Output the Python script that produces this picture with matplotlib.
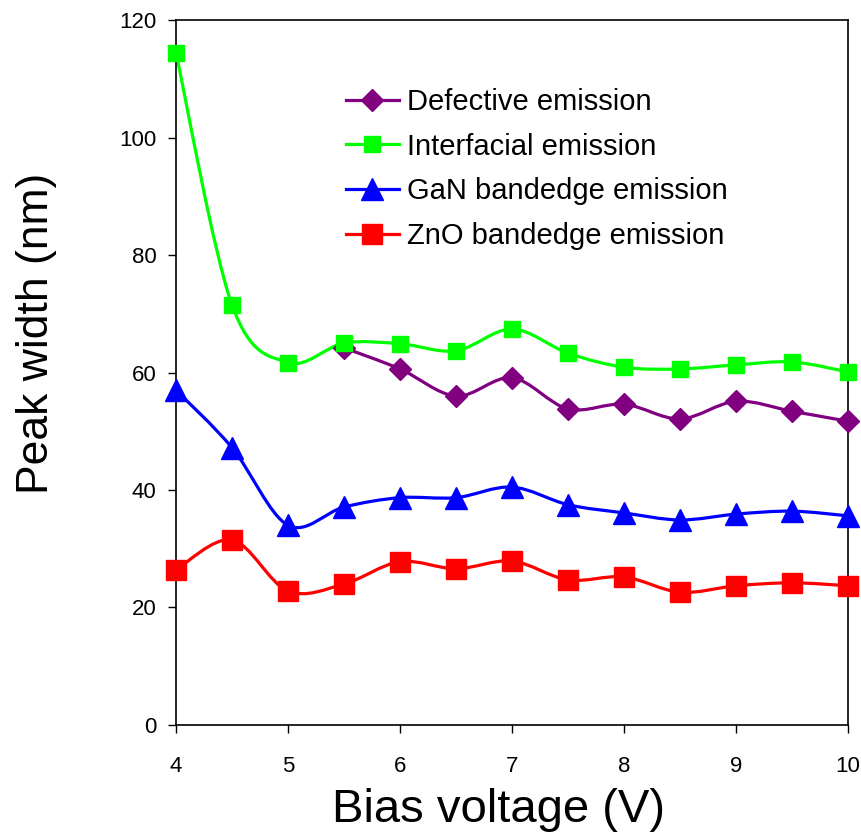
import numpy as np
import matplotlib
matplotlib.use("Agg")
import matplotlib.pyplot as plt
from matplotlib.path import Path
from matplotlib.patches import PathPatch
from matplotlib.lines import Line2D

plt.rcParams['font.family'] = ['Liberation Sans', 'DejaVu Sans']

# data
voltage = [4, 4.5, 5, 5.5, 6, 6.5, 7, 7.5, 8, 8.5, 9, 9.5, 10]
defect_v = [5.5, 6, 6.5, 7, 7.5, 8, 8.5, 9, 9.5, 10]
defective = [64.2, 60.6, 56.0, 59.1, 53.8, 54.6, 52.1, 55.1, 53.4, 51.7]
interfacial = [114.4, 71.5, 61.7, 65.0, 64.9, 63.7, 67.4, 63.3, 60.9, 60.6, 61.3, 61.8, 60.1]
gan = [57.0, 47.2, 34.0, 37.1, 38.7, 38.7, 40.5, 37.5, 36.1, 34.9, 35.9, 36.4, 35.6]
zno = [26.4, 31.5, 22.8, 24.0, 27.8, 26.6, 27.9, 24.7, 25.2, 22.6, 23.7, 24.2, 23.7]

labels = ['Defective emission', 'Interfacial emission',
          'GaN bandedge emission', 'ZnO bandedge emission']


def smooth_path(x, y):
    # Excel-style smoothed line: cubic bezier segments, catmull-rom tangents
    p = np.column_stack([x, y]).astype(float)
    n = len(p)
    verts = [p[0]]
    codes = [Path.MOVETO]
    for i in range(n - 1):
        p0 = p[i - 1] if i > 0 else p[i]
        p1 = p[i]
        p2 = p[i + 1]
        p3 = p[i + 2] if i + 2 < n else p[i + 1]
        c1 = p1 + (p2 - p0) / 6.0
        c2 = p2 - (p3 - p1) / 6.0
        verts += [c1, c2, p2]
        codes += [Path.CURVE4] * 3
    return Path(verts, codes)


fig = plt.figure(figsize=(8.61, 8.34), dpi=100)
ax = fig.add_axes([0.2044, 0.1307, 0.7806, 0.8453])

series = [
    (defect_v, defective, '#800080', 'D', 11),
    (voltage, interfacial, '#00ff00', 's', 11),
    (voltage, gan, '#0000ff', '^', 16),
    (voltage, zno, '#ff0000', 's', 15),
]

handles = []
for (xs, ys, col, mk, ms), lab in zip(series, labels):
    ax.add_patch(PathPatch(smooth_path(xs, ys), fill=False, edgecolor=col,
                           lw=2.3, zorder=2))
    ax.plot(xs, ys, linestyle='none', marker=mk, ms=ms, color=col,
            mec=col, zorder=3, clip_on=False)
    handles.append(Line2D([], [], color=col, lw=2.3, marker=mk, ms=ms, mec=col))

ax.set_xlim(4, 10)
ax.set_ylim(0, 120)
ax.set_xticks(range(4, 11))
ax.set_yticks(range(0, 121, 20))
ax.tick_params(axis='both', direction='out', length=6, width=1, labelsize=16)
ax.tick_params(axis='x', pad=16)
ax.tick_params(axis='y', pad=8)
for s in ax.spines.values():
    s.set_linewidth(1.2)

ax.set_xlabel('Bias voltage (V)', fontsize=34, va='top')
ax.xaxis.set_label_coords(0.48, -0.089)
ax.set_ylabel('Peak width (nm)', fontsize=32)
ax.yaxis.set_label_coords(-0.177, 0.556)

ax.legend(handles, labels, loc='upper left', bbox_to_anchor=(0.253, 0.9035),
          frameon=False, prop={'size': 21},
          handlelength=1.8, handletextpad=0.3, labelspacing=0.57,
          borderpad=0, borderaxespad=0)

fig.savefig('out.png', dpi=100)
